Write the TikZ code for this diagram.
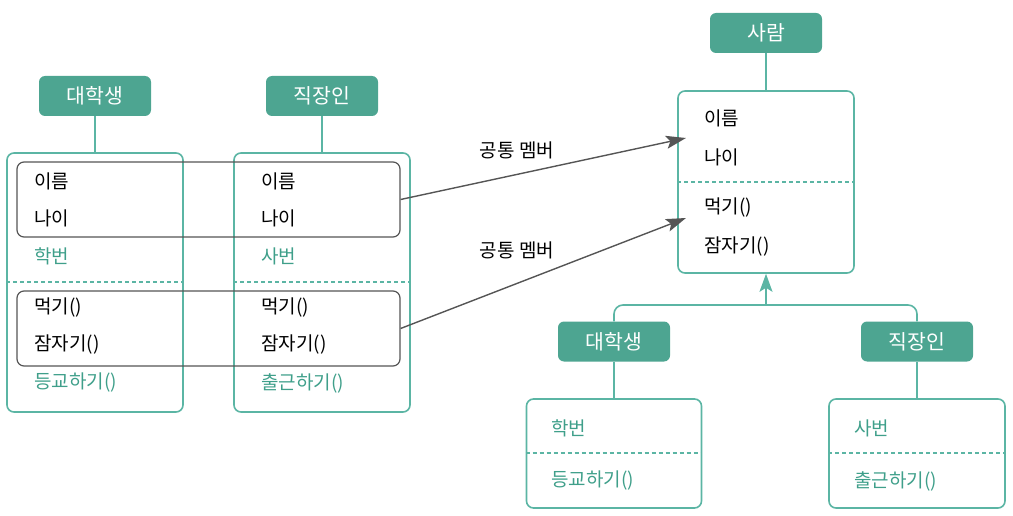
\documentclass[tikz,border=0pt]{standalone}
\usepackage{fontspec}
\setmainfont{Noto Sans CJK KR}
\usetikzlibrary{arrows.meta}
\definecolor{headteal}{HTML}{4DA591}
\definecolor{lineteal}{HTML}{5BB5A4}
\definecolor{textteal}{HTML}{3F9F8A}
\definecolor{membergray}{HTML}{555555}

\begin{document}
\begin{tikzpicture}[x=1pt,y=-1pt,
		hdr/.style={fill=headteal,rounded corners=6pt,text=white,minimum width=112pt,minimum height=40pt,inner sep=0pt,font=\fontsize{20.5}{24}\selectfont},
		cbox/.style={draw=lineteal,line width=1.6pt,rounded corners=7pt,inner sep=0pt},
		itm/.style={anchor=west,inner sep=0pt,font=\fontsize{19}{22}\selectfont},
		own/.style={itm,text=textteal},
		grp/.style={draw=membergray,line width=1.2pt,rounded corners=7pt,inner sep=0pt,minimum width=383pt,minimum height=75pt},
		sep/.style={draw=lineteal,dash pattern=on 4pt off 3pt,line width=1.3pt},
		link/.style={draw=lineteal,line width=1.6pt},
		share/.style={draw=membergray,line width=1.4pt,-{Stealth[length=20pt,width=13pt,inset=4pt]}}]
		\useasboundingbox (0,0) rectangle (1013,516);
		% Two separate classes on the left
		\node[hdr] (stud) at (95,96) {대학생};
		\node[hdr] (work) at (322,96) {직장인};
		\node[cbox,minimum width=176pt,minimum height=259pt] (univ) at (95,282.5) {};
		\node[cbox,minimum width=176pt,minimum height=259pt] (job) at (322,282.5) {};
		\draw[link] (stud.south) -- (univ.north);
		\draw[link] (work.south) -- (job.north);
		\draw[sep] (univ.west |- 0,282) -- (univ.east |- 0,282);
		\draw[sep] (job.west |- 0,282) -- (job.east |- 0,282);
		\node[itm] (sname) at (34,181) {이름};
		\node[itm] (sage) at (34,218) {나이};
		\node[own] (snum) at (34,256) {학번};
		\node[itm] (seat) at (34,308) {먹기()};
		\node[itm] (ssleep) at (34,345) {잠자기()};
		\node[own] (sgo) at (34,383) {등교하기()};
		\node[itm] (wname) at (261,181) {이름};
		\node[itm] (wage) at (261,218) {나이};
		\node[own] (wnum) at (261,256) {사번};
		\node[itm] (weat) at (261,308) {먹기()};
		\node[itm] (wsleep) at (261,345) {잠자기()};
		\node[own] (wgo) at (261,383) {출근하기()};
		% Common members are grouped
		\node[grp] (fields) at (208.5,199.5) {};
		\node[grp] (methods) at (208.5,328.5) {};
		\node[itm,anchor=center] (lab1) at (517,150) {공통 멤버};
		\node[itm,anchor=center] (lab2) at (517,250) {공통 멤버};
		% Super class
		\node[hdr] (person) at (766,33) {사람};
		\node[cbox,minimum width=176pt,minimum height=182pt] (pbox) at (766,182) {};
		\draw[link] (person.south) -- (pbox.north);
		\draw[sep] (pbox.west |- 0,182) -- (pbox.east |- 0,182);
		\node[itm] (pname) at (704,118) {이름};
		\node[itm] (page) at (704,157) {나이};
		\node[itm] (peat) at (704,208) {먹기()};
		\node[itm] (psleep) at (704,247) {잠자기()};
		\coordinate (tip1) at (686,138);
		\coordinate (tip2) at (686,218);
		\draw[share] (fields.east) -- (tip1);
		\draw[share] (methods.east) -- (tip2);
		% Sub classes
		\node[hdr] (stud2) at (614,341.5) {대학생};
		\node[hdr] (work2) at (917,341.5) {직장인};
		\node[cbox,minimum width=175pt,minimum height=109pt] (ubox) at (614,453.5) {};
		\node[cbox,minimum width=176pt,minimum height=109pt] (jbox) at (917,453.5) {};
		\draw[link] (stud2.south) -- (ubox.north);
		\draw[link] (work2.south) -- (jbox.north);
		\draw[sep] (ubox.west |- 0,453) -- (ubox.east |- 0,453);
		\draw[sep] (jbox.west |- 0,453) -- (jbox.east |- 0,453);
		\node[own] (unum) at (551,428) {학번};
		\node[own] (ugo) at (551,481) {등교하기()};
		\node[own] (jnum) at (854,428) {사번};
		\node[own] (jgo) at (854,481) {출근하기()};
		% Inheritance
		\coordinate (join) at (766,305);
		\draw[link,rounded corners=9pt] (stud2.north) |- (join) -| (work2.north);
		\draw[link,-{Stealth[length=18pt,width=13pt,inset=4pt]}] (join) -- (pbox.south);
	\end{tikzpicture}
\end{document}
